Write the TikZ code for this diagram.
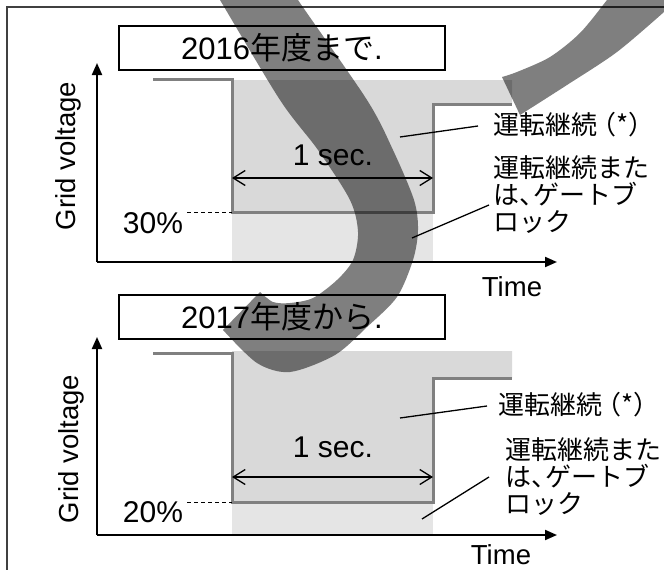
\documentclass[tikz,border=0pt]{standalone}
\usepackage{fontspec}
\setmainfont{Liberation Sans}
\newfontfamily\jp{Noto Sans CJK JP}
\usetikzlibrary{arrows.meta}
\tikzset{>={Triangle[length=12pt,width=10pt]}}

\begin{document}
\begin{tikzpicture}[x=1pt,y=-1pt,
    era/.style={draw,line width=1.5pt,minimum width=326pt,minimum height=44pt,
      inner sep=0pt,font=\fontsize{31}{36}\selectfont},
    axis/.style={->,line width=2pt},
    trace/.style={draw=gray,line width=3pt},
    hold/.style={fill=black!15},
    ride/.style={fill=black!10},
    level/.style={line width=1pt,dash pattern=on 4pt off 3pt},
    span/.style={{Straight Barb[length=12pt,width=15pt]}-{Straight Barb[length=12pt,width=15pt]},line width=1.3pt},
    callout/.style={line width=1.3pt},
    num/.style={inner sep=0pt,font=\fontsize{30}{36}\selectfont},
    ax/.style={inner sep=0pt,font=\fontsize{27.5}{32}\selectfont},
    note/.style={inner sep=0pt,align=left,font=\jp\fontsize{26}{27}\selectfont},
    smear/.style={fill=black,opacity=0.5}
  ]
  \useasboundingbox (0,0) rectangle (664,570);

  % ---- until 2016 ----
  \node [era] (era1) at (282,48) {2016{\jp 年度まで}.};

  \fill [hold] (232,80) -- (512,80) -- (512,104) -- (433,104) -- (433,212) -- (232,212) -- cycle;
  \fill [ride] (232,212) rectangle (433,262);
  \draw [trace] (153,79) -- (232,79) -- (232,212) -- (433,212) -- (433,104) -- (512,104);

  \coordinate (o1) at (97,262);
  \coordinate (ytop1) at (97,63);
  \coordinate (xend1) at (557,262);
  \draw [axis] (o1) -- (ytop1);
  \draw [axis] (o1) -- (xend1);

  \node [num] (pct1) at (153,223) {30\%};
  \coordinate (d1) at (187,212);
  \coordinate (l1) at (232,212);
  \draw [level] (d1) -- (l1);

  \coordinate (s1) at (232,178);
  \coordinate (e1) at (433,178);
  \draw [span] (s1) -- (e1);
  \node [num] (dur1) at (333,155) {1 sec.};

  \node [ax,rotate=90] (vlab1) at (68,156) {Grid voltage};
  \node [ax] (time1) at (512,287) {Time};

  \node [note,anchor=west] (keep1) at (493,125) {運転継続\kern-.25em（*）\kern-.5em};
  \node [note,anchor=west] (keepgb1) at (493,195) {運転継続また\\は、\kern-.45em ゲートブ\\ロック};
  \coordinate (k1) at (400,137);
  \coordinate (g1) at (412,238);
  \draw [callout] (k1) -- ([xshift=-15pt,yshift=-1pt]keep1.west);
  \draw [callout] (g1) -- ([xshift=-4pt,yshift=-10pt]keepgb1.west);

  % ---- from 2017 ----
  \node [era] (era2) at (282,317) {2017{\jp 年度から}.};

  \fill [hold] (232,351) -- (512,351) -- (512,378) -- (433,378) -- (433,502) -- (232,502) -- cycle;
  \fill [ride] (232,502) rectangle (433,535);
  \draw [trace] (153,353) -- (232,353) -- (232,502) -- (433,502) -- (433,378) -- (512,378);

  \coordinate (o2) at (97,535);
  \coordinate (ytop2) at (97,337);
  \coordinate (xend2) at (557,535);
  \draw [axis] (o2) -- (ytop2);
  \draw [axis] (o2) -- (xend2);

  \node [num] (pct2) at (153,512) {20\%};
  \coordinate (d2) at (187,502);
  \coordinate (l2) at (232,502);
  \draw [level] (d2) -- (l2);

  \coordinate (s2) at (232,477);
  \coordinate (e2) at (433,477);
  \draw [span] (s2) -- (e2);
  \node [num] (dur2) at (333,447) {1 sec.};

  \node [ax,rotate=90] (vlab2) at (71,449) {Grid voltage};
  \node [ax] (time2) at (501,555) {Time};

  \node [note,anchor=west] (keep2) at (498,405) {運転継続\kern-.25em（*）\kern-.5em};
  \node [note,anchor=west] (keepgb2) at (505,477) {運転継続また\\は、\kern-.45em ゲートブ\\ロック};
  \coordinate (k2) at (400,418);
  \coordinate (g2) at (422,519);
  \draw [callout] (k2) -- ([xshift=-11pt,yshift=-1pt]keep2.west);
  \draw [callout] (g2) -- ([xshift=-16pt,yshift=0pt]keepgb2.west);

  % frame and the broad strokes across it
  \begin{scope}
    \clip (0,0) rectangle (664,570);
    \draw [line width=2pt,black!75] (7,580) -- (7,7) -- (680,7);
    \fill [smear] plot [smooth] coordinates {(205,-25) (220,0) (280,100) (318,150) (350,200)
        (358,232) (353,260) (337,280) (313,298) (290,303) (273,302) (260,292)}
      -- plot [smooth] coordinates {(223,330) (257,363) (290,372) (335,355) (367,327)
        (397,297) (413,260) (418,230) (414,200) (393,150) (367,100) (298,0) (283,-25)}
      -- cycle;
    \fill [smear] plot [smooth] coordinates {(502,77) (517,72) (550,57) (580,33) (607,0) (622,-20)}
      -- (700,-20) -- (700,-10)
      -- plot [smooth] coordinates {(664,12) (617,52) (567,85) (520,115)}
      -- cycle;
  \end{scope}
\end{tikzpicture}
\end{document}
